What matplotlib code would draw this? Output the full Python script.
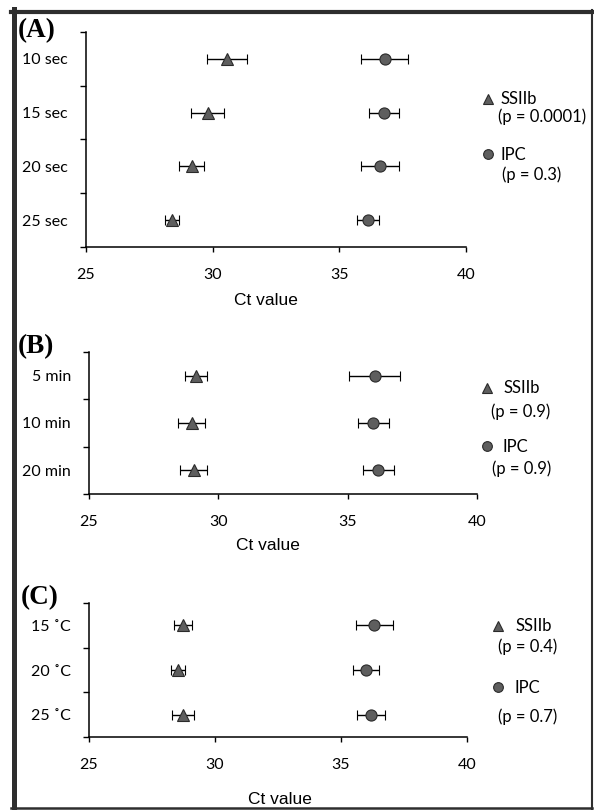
import matplotlib
matplotlib.use("Agg")
import matplotlib.pyplot as plt
from matplotlib.lines import Line2D

# panel (A) - extension time
a_labels = ["10 sec", "15 sec", "20 sec", "25 sec"]
a_ssiib = [30.56, 29.80, 29.18, 28.39]
a_ssiib_err = [0.79, 0.66, 0.49, 0.28]
a_ipc = [36.79, 36.76, 36.60, 36.14]
a_ipc_err = [0.93, 0.58, 0.74, 0.44]
a_p = ["(p = 0.0001)", "(p = 0.3)"]

# panel (B) - incubation time
b_labels = ["5 min", "10 min", "20 min"]
b_ssiib = [29.13, 28.98, 29.05]
b_ssiib_err = [0.43, 0.52, 0.53]
b_ipc = [36.04, 35.99, 36.18]
b_ipc_err = [0.98, 0.59, 0.60]
b_p = ["(p = 0.9)", "(p = 0.9)"]

# panel (C) - temperature
c_labels = ["15 \u02daC", "20 \u02daC", "25 \u02daC"]
c_ssiib = [28.72, 28.52, 28.74]
c_ssiib_err = [0.35, 0.27, 0.43]
c_ipc = [36.32, 36.00, 36.19]
c_ipc_err = [0.74, 0.51, 0.55]
c_p = ["(p = 0.4)", "(p = 0.7)"]

x_ticks = [25, 30, 35, 40]

W, H = 594, 810
fig = plt.figure(figsize=(W / 100, H / 100), dpi=100)

TICK_FONT = "Lato"
FILL = "#5e5e5e"
EDGE = "#2a2a2a"


def fx(x):
    return x / W


def fy(y):
    return 1 - y / H


def draw_panel(rect, letter, letter_xy, labels, ssiib, ssiib_err, ipc, ipc_err,
               xlabel_xy, legend):
    l, t, r, b = rect
    ax = fig.add_axes([fx(l), fy(b), (r - l) / W, (b - t) / H])
    n = len(labels)
    ypos = [n - i - 0.5 for i in range(n)]

    ax.errorbar(ssiib, ypos, xerr=ssiib_err, fmt="^", ms=8, mfc=FILL, mec=EDGE,
                mew=0.8, ecolor="black", elinewidth=1, capsize=3.5, capthick=1)
    ax.errorbar(ipc, ypos, xerr=ipc_err, fmt="o", ms=8, mfc=FILL, mec=EDGE,
                mew=0.8, ecolor="black", elinewidth=1, capsize=3.5, capthick=1)

    ax.set_xlim(25, 40)
    ax.set_ylim(0, n)
    ax.set_xticks(x_ticks)
    ax.set_xticklabels([str(v) for v in x_ticks], fontfamily=TICK_FONT, fontsize=11.5)
    ax.set_yticks(range(n + 1))
    ax.set_yticklabels([])
    ax.set_yticks(ypos, minor=True)
    ax.set_yticklabels(labels, minor=True, fontfamily=TICK_FONT, fontsize=11.5)
    ax.tick_params(axis="y", which="major", direction="out", length=4.5, width=1)
    ax.tick_params(axis="y", which="minor", length=0, pad=13)
    ax.tick_params(axis="x", direction="out", length=3.8, width=1, pad=11)

    for s in ["top", "right"]:
        ax.spines[s].set_visible(False)
    for s in ["left", "bottom"]:
        ax.spines[s].set_linewidth(1.1)

    fig.text(fx(letter_xy[0]), fy(letter_xy[1]), letter, fontfamily="Liberation Serif",
             fontweight="bold", fontsize=19.5, ha="left", va="center")
    fig.text(fx(xlabel_xy[0]), fy(xlabel_xy[1]), "Ct value", fontfamily="Liberation Sans",
             fontsize=12.5, ha="center", va="center")

    # hand-placed legend
    (mx1, my1, tx1, py_x1, py1, p1), (mx2, my2, tx2, py_x2, py2, p2) = legend
    fig.add_artist(Line2D([fx(mx1)], [fy(my1)], marker="^", ms=7, mfc=FILL, mec=EDGE,
                          mew=0.8, linestyle="none"))
    fig.text(fx(tx1), fy(my1), "SSIIb", fontfamily=TICK_FONT, fontsize=12,
             ha="left", va="center")
    fig.text(fx(py_x1), fy(py1), p1, fontfamily=TICK_FONT, fontsize=12,
             ha="left", va="center")
    fig.add_artist(Line2D([fx(mx2)], [fy(my2)], marker="o", ms=7, mfc=FILL, mec=EDGE,
                          mew=0.8, linestyle="none"))
    fig.text(fx(tx2), fy(my2 + 1), "IPC", fontfamily=TICK_FONT, fontsize=12,
             ha="left", va="center")
    fig.text(fx(py_x2), fy(py2), p2, fontfamily=TICK_FONT, fontsize=12,
             ha="left", va="center")
    return ax


draw_panel((86, 32, 466, 247), "(A)", (18, 31), a_labels, a_ssiib, a_ssiib_err,
           a_ipc, a_ipc_err, (266, 301),
           [(488, 99, 500, 498, 117, a_p[0]), (488, 154, 500, 502, 175, a_p[1])])
draw_panel((89, 352, 477, 494), "(B)", (18, 347), b_labels, b_ssiib, b_ssiib_err,
           b_ipc, b_ipc_err, (268, 546),
           [(487, 388, 503, 491, 412, b_p[0]), (487, 446, 503, 492, 469, b_p[1])])
draw_panel((89, 603, 467, 737), "(C)", (21, 598), c_labels, c_ssiib, c_ssiib_err,
           c_ipc, c_ipc_err, (280, 800),
           [(498, 626, 515, 498, 647, c_p[0]), (498, 687, 515, 498, 717, c_p[1])])

# scanned page frame
frame = "#2e2e2e"
fig.add_artist(Line2D([fx(13.5), fx(13.5)], [fy(9), fy(809)], color=frame, lw=3.6))
fig.add_artist(Line2D([fx(11), fx(592)], [fy(11.5), fy(11.5)], color=frame, lw=3.0))
fig.add_artist(Line2D([fx(591.5), fx(591.5)], [fy(10), fy(809)], color=frame, lw=1.5))
fig.add_artist(Line2D([fx(11), fx(592)], [fy(808), fy(808)], color=frame, lw=1.8))

fig.savefig("out.png", dpi=100)
